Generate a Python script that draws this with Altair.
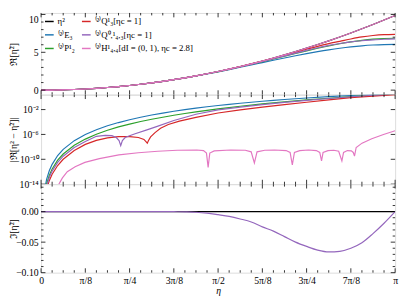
import math
import altair as alt
import pandas as pd

PI = math.pi
FONT = "Liberation Serif"

# ---------------- names / colours ----------------
S_ETA2 = "η²"
S_E3 = "⁽²⁾E₃"
S_P = "⁽²⁾P¹₂"
S_Q13 = "⁽²⁾Q¹₃[ηc = 1]"
S_Q43 = "⁽²⁾Q⁰,¹₄,₃[ηc = 1]"
S_H = "⁽²⁾H¹₄,₄[dI = (0, 1), ηc = 2.8]"
COLORS = {S_ETA2: "#000000", S_E3: "#1f77b4", S_P: "#2ca02c",
          S_Q13: "#d62728", S_Q43: "#9467bd", S_H: "#e377c2"}
DRAW_ORDER = [S_ETA2, S_E3, S_P, S_Q13, S_Q43, S_H]
LEGEND_ORDER = [S_ETA2, S_E3, S_P, S_Q13, S_Q43, S_H]

# ---------------- panel 1: Re[eta~^2], eta = k*pi/32 ----------------
K_GRID = list(range(33))
RE_ETA2 = [0, 0.0096, 0.0386, 0.0867, 0.1542, 0.2410, 0.3470, 0.4723, 0.6169, 0.7807,
           0.9638, 1.1662, 1.3879, 1.6289, 1.8892, 2.1686, 2.4674, 2.7855, 3.1227, 3.4793,
           3.8553, 4.2505, 4.6650, 5.0989, 5.5517, 6.0241, 6.5154, 7.0260, 7.5557, 8.1045,
           8.6739, 9.2621, 9.8696]
RE_E3 = [0, 0.0096, 0.0386, 0.0867, 0.1542, 0.2410, 0.3470, 0.4722, 0.6166, 0.7801,
         0.9625, 1.1635, 1.3826, 1.6191, 1.8721, 2.1404, 2.4222, 2.7156, 3.0180, 3.3265,
         3.6376, 3.9476, 4.2523, 4.5473, 4.8278, 5.0893, 5.3271, 5.5368, 5.7145, 5.8566,
         5.9602, 6.0233, 6.0444]
RE_P = [0, 0.0096, 0.0386, 0.0867, 0.1542, 0.2410, 0.3470, 0.4723, 0.6168, 0.7806,
        0.9635, 1.1655, 1.3867, 1.6264, 1.8848, 2.1611, 2.4545, 2.7643, 3.0890, 3.4266,
        3.7749, 4.1305, 4.4895, 4.8471, 5.1974, 5.5336, 5.8484, 6.1336, 6.3813, 6.5836,
        6.7336, 6.8260, 6.8571]
RE_Q13 = [0, 0.0096, 0.0386, 0.0867, 0.1542, 0.2410, 0.3470, 0.4723, 0.6169, 0.7807,
          0.9638, 1.1662, 1.3879, 1.6289, 1.8890, 2.1683, 2.4646, 2.7800, 3.1140, 3.4640,
          3.8300, 4.2110, 4.6020, 5.0010, 5.4000, 5.7900, 6.1500, 6.4500, 6.7600, 7.0300,
          7.2200, 7.3400, 7.3800]
RE_Q43 = [0, 0.0096, 0.0386, 0.0867, 0.1542, 0.2410, 0.3470, 0.4723, 0.6169, 0.7807,
          0.9638, 1.1662, 1.3876, 1.6281, 1.8872, 2.1650, 2.4585, 2.7720, 3.0976, 3.4400,
          3.7922, 4.1550, 4.5240, 4.8900, 5.2500, 5.5950, 5.9120, 6.1700, 6.3810, 6.5300,
          6.6340, 6.7300, 6.7800]
RE_H = [0, 0.0096, 0.0386, 0.0867, 0.1542, 0.2410, 0.3470, 0.4723, 0.6169, 0.7807,
        0.9638, 1.1662, 1.3879, 1.6289, 1.8892, 2.1686, 2.4674, 2.7855, 3.1227, 3.4793,
        3.8553, 4.2505, 4.6650, 5.0989, 5.5517, 6.0241, 6.5154, 7.0260, 7.5557, 8.1045,
        8.6739, 9.2621, 9.8696]

# ---------------- panel 3: Im[eta~^2] ----------------
IM_ETA2 = [0.0] * 33
IM_Q43 = [0.0] * 12 + [-0.0001, -0.0004, -0.001, -0.0025, -0.005, -0.0078, -0.012, -0.017,
                       -0.025, -0.032, -0.041, -0.050, -0.057, -0.063, -0.066, -0.065,
                       -0.060, -0.051, -0.036, -0.019, 0.0]

# ---------------- panel 2: log10 |Re[eta^2 - eta~^2]|, position k (eta = k*pi/32) ----------------
ERR_E3_K = [0.25, 0.5, 0.75, 1, 1.5, 2, 3, 4, 5, 6, 7, 8, 9, 10, 11, 12, 13, 14, 15, 16,
            17, 18, 19, 20, 21, 22, 23, 24, 26, 28, 30, 32]
ERR_E3_LOG = [-15.63, -13.22, -11.81, -10.81, -9.40, -8.40, -7.00, -6.01, -5.24, -4.61,
              -4.09, -3.63, -3.24, -2.88, -2.56, -2.27, -2.01, -1.77, -1.55, -1.345,
              -1.155, -0.98, -0.818, -0.662, -0.519, -0.384, -0.259, -0.141, 0.075, 0.265,
              0.434, 0.583]
ERR_P_K = ERR_E3_K
ERR_P_LOG = [-16.38, -13.97, -12.56, -11.56, -10.15, -9.15, -7.74, -6.75, -5.97, -5.33,
             -4.79, -4.34, -3.92, -3.56, -3.23, -2.91, -2.63, -2.36, -2.12, -1.89,
             -1.68, -1.47, -1.28, -1.094, -0.92, -0.756, -0.60, -0.451, -0.176, 0.070,
             0.288, 0.479]
ERR_Q43_K = [0.25, 0.5, 0.75, 1, 1.5, 2, 3, 4, 5, 5.8, 6.4, 6.8, 7.05, 7.2, 7.35, 7.6, 8.0,
             8.5, 9.5, 10.5, 12, 14, 16, 18, 20, 22, 24, 26, 28, 30, 32]
ERR_Q43_LOG = [-16.7, -14.3, -12.9, -11.9, -10.5, -9.5, -8.1, -7.15, -6.3, -6.15, -6.2,
               -6.5, -7.0, -7.8, -7.0, -6.5, -6.2, -5.9, -5.3, -4.7, -3.75, -2.75, -2.05,
               -1.6, -1.2, -0.85, -0.52, -0.22, 0.07, 0.31, 0.49]
ERR_Q13_K = [0.25, 0.5, 0.75, 1, 1.5, 2, 3, 4, 5, 6, 7, 8, 8.8, 9.3, 9.5, 9.6, 9.7, 9.9,
             10.3, 10.8, 11.5, 12.5, 14, 16, 18, 20, 22, 24, 26, 28, 30, 32]
ERR_Q13_LOG = [-17.2, -14.8, -13.4, -12.4, -11.0, -10.0, -8.6, -7.6, -6.95, -6.55, -6.35,
               -6.35, -6.5, -6.8, -7.2, -7.4, -7.0, -6.4, -5.7, -5.0, -4.4, -3.85, -3.25,
               -2.55, -2.05, -1.60, -1.20, -0.82, -0.44, -0.09, 0.16, 0.40]
ERR_H_K = [1.61, 1.93, 2.37, 3.08, 3.96, 5.27, 7.03, 8.79, 10.55, 12.31, 14.07, 14.68, 14.95,
           15.10, 15.25, 15.65, 17.14, 18.46, 18.99, 19.28, 19.52, 20.22, 21.10, 22.15, 22.51,
           22.71, 22.90, 23.38, 24.18, 24.88, 25.19, 25.35, 25.49, 25.93, 26.46, 26.90, 27.19,
           27.34, 27.69, 28.04, 28.22, 28.33, 28.48, 29.01, 29.89, 30.95, 32.0]
ERR_H_LOG = [-14.0, -13.0, -12.0, -11.2, -10.5, -9.9, -9.3, -8.95, -8.7, -8.55, -8.5, -8.6,
             -9.0, -11.3, -9.0, -8.65, -8.5, -8.55, -8.8, -10.6, -8.8, -8.55, -8.5, -8.6,
             -8.9, -10.9, -8.9, -8.6, -8.5, -8.6, -8.9, -10.25, -8.9, -8.6, -8.55, -8.7,
             -10.25, -8.9, -8.6, -8.65, -8.9, -9.5, -8.1, -7.4, -6.7, -6.0, -5.4]

X_LABELS = ["0", "π/8", "π/4", "3π/8", "π/2", "5π/8", "3π/4", "7π/8", "π"]

# ---------------- layout ----------------
W = 364
H1, H2, H3 = 84, 92, 91
LW = 1.2

xscale = alt.Scale(domain=[0, PI], nice=False, zero=False)
y1scale = alt.Scale(domain=[-0.6, 10.2], nice=False, zero=False)
y2scale = alt.Scale(type="log", domain=[1e-14, 2.5], nice=False)
y3scale = alt.Scale(domain=[-0.1, 0.045], nice=False, zero=False)

x_major = [i * PI / 8 for i in range(9)]
x_minor = [i * PI / 32 for i in range(33) if i % 4]


def frame_ticks(h, yscale, y_major, y_minor, xax, yax):
    layers = []
    for vals, ln in ((x_major, 4.5), (x_minor, 2.5)):
        d = pd.DataFrame({"eta": vals})
        b = alt.Chart(d).mark_rule(color="black", strokeWidth=0.8)
        layers.append(b.encode(x=alt.X("eta:Q", scale=xscale, axis=xax),
                               y=alt.value(h), y2=alt.value(h - ln)))
        layers.append(b.encode(x=alt.X("eta:Q", scale=xscale, axis=xax),
                               y=alt.value(0), y2=alt.value(ln)))
    for vals, ln in ((y_major, 4.5), (y_minor, 2.5)):
        if not vals:
            continue
        d = pd.DataFrame({"v": vals})
        b = alt.Chart(d).mark_rule(color="black", strokeWidth=0.8)
        layers.append(b.encode(y=alt.Y("v:Q", scale=yscale, axis=yax),
                               x=alt.value(0), x2=alt.value(ln)))
        layers.append(b.encode(y=alt.Y("v:Q", scale=yscale, axis=yax),
                               x=alt.value(W), x2=alt.value(W - ln)))
    return layers


def yaxis(title, values, h, fmt=None, expr=None, flush=None):
    kw = dict(title=title, values=values, titleX=-28, titleY=h / 2,
              titleBaseline="middle", titleAlign="center", titleAngle=-90,
              titleFont=FONT, titleFontSize=10, titleFontWeight="normal",
              labelFont=FONT, labelFontSize=10, labelPadding=3, ticks=False,
              tickSize=0, domain=False, grid=False, labelColor="black", titleColor="black")
    if fmt:
        kw["format"] = fmt
    if expr:
        kw["labelExpr"] = expr
    if flush is not None:
        kw["labelFlush"] = flush
    return alt.Axis(**kw)


xaxis_bottom = alt.Axis(title="η", values=x_major,
                        labelExpr="['0','π/8','π/4','3π/8','π/2','5π/8','3π/4','7π/8','π'][round(datum.value*8/PI)]",
                        labelFlush=False, labelFont=FONT, labelFontSize=10, labelPadding=3,
                        ticks=False, tickSize=0, domain=False, grid=False,
                        titleFont=FONT, titleFontSize=10, titleFontStyle="italic",
                        titleFontWeight="normal", titlePadding=0,
                        labelColor="black", titleColor="black")

# ---- panel 1 ----
rows = []
for name, vals in [(S_ETA2, RE_ETA2), (S_E3, RE_E3), (S_P, RE_P), (S_Q13, RE_Q13),
                   (S_Q43, RE_Q43), (S_H, RE_H)]:
    for k, v in zip(K_GRID, vals):
        rows.append({"eta": k * PI / 32, "v": v, "s": name})
re_df = pd.DataFrame(rows)

ax1 = yaxis("ℜ[η̃²]", [0, 5, 10], H1, flush=3)
legend = alt.Legend(title=None, orient="none", legendX=3, legendY=3, columns=2,
                    symbolType="stroke", symbolSize=80, symbolStrokeWidth=1.5,
                    labelFont=FONT, labelFontSize=9, labelColor="black",
                    rowPadding=3, columnPadding=4, padding=0, labelOffset=3)
cscale = alt.Scale(domain=LEGEND_ORDER, range=[COLORS[s] for s in LEGEND_ORDER])

p1_layers = []
for s in DRAW_ORDER:
    p1_layers.append(
        alt.Chart(re_df).transform_filter(alt.datum.s == s)
        .mark_line(strokeWidth=LW, clip=True, interpolate="monotone")
        .encode(x=alt.X("eta:Q", scale=xscale, axis=None),
                y=alt.Y("v:Q", scale=y1scale, axis=ax1),
                color=alt.Color("s:N", scale=cscale, legend=legend))
    )
p1 = alt.layer(*p1_layers, *frame_ticks(H1, y1scale, [0, 5, 10],
                                         [v for v in range(0, 11) if v % 5], None, ax1)).properties(width=W, height=H1)

# ---- panel 2 ----
ax2 = yaxis("|ℜ[η² − η̃²]|", [1e-14, 1e-10, 1e-6, 1e-2], H2,
            expr="datum.value > 1e-4 ? '10⁻²' : datum.value > 1e-8 ? '10⁻⁶' : datum.value > 1e-12 ? '10⁻¹⁰' : '10⁻¹⁴'")
p2_layers = []
for s, ks, logs in [(S_E3, ERR_E3_K, ERR_E3_LOG), (S_P, ERR_P_K, ERR_P_LOG),
                    (S_Q13, ERR_Q13_K, ERR_Q13_LOG), (S_Q43, ERR_Q43_K, ERR_Q43_LOG),
                    (S_H, ERR_H_K, ERR_H_LOG)]:
    d = pd.DataFrame({"eta": [k * PI / 32 for k in ks], "v": [10.0 ** l for l in logs]})
    p2_layers.append(
        alt.Chart(d).mark_line(strokeWidth=LW, clip=True, color=COLORS[s])
        .encode(x=alt.X("eta:Q", scale=xscale, axis=None),
                y=alt.Y("v:Q", scale=y2scale, axis=ax2))
    )
p2 = alt.layer(*p2_layers, *frame_ticks(H2, y2scale, [1e-14, 1e-10, 1e-6, 1e-2], [],
                                         None, ax2)).properties(width=W, height=H2)

# ---- panel 3 ----
ax3 = yaxis("ℑ[η̃²]", [-0.1, -0.05, 0.0], H3, fmt=".2f")
p3_layers = []
for s, vals in [(S_ETA2, IM_ETA2), (S_Q43, IM_Q43)]:
    d = pd.DataFrame({"eta": [k * PI / 32 for k in K_GRID], "v": vals})
    p3_layers.append(
        alt.Chart(d).mark_line(strokeWidth=LW, clip=True, color=COLORS[s], interpolate="monotone")
        .encode(x=alt.X("eta:Q", scale=xscale, axis=xaxis_bottom),
                y=alt.Y("v:Q", scale=y3scale, axis=ax3))
    )
y3_minor = [round(-0.1 + 0.01 * i, 2) for i in range(15) if i % 5]
p3 = alt.layer(*p3_layers, *frame_ticks(H3, y3scale, [-0.1, -0.05, 0.0], y3_minor,
                                         xaxis_bottom, ax3)).properties(width=W, height=H3)

chart = (
    alt.vconcat(p1, p2, p3, spacing=0, bounds="flush")
    .resolve_scale(color="independent")
    .properties(padding={"left": 0, "top": 0, "right": 0, "bottom": 0})
    .configure_view(stroke="black", strokeWidth=1)
    .configure(background="white")
)

chart.save("out.html", embed_options={"renderer": "svg", "actions": False})
